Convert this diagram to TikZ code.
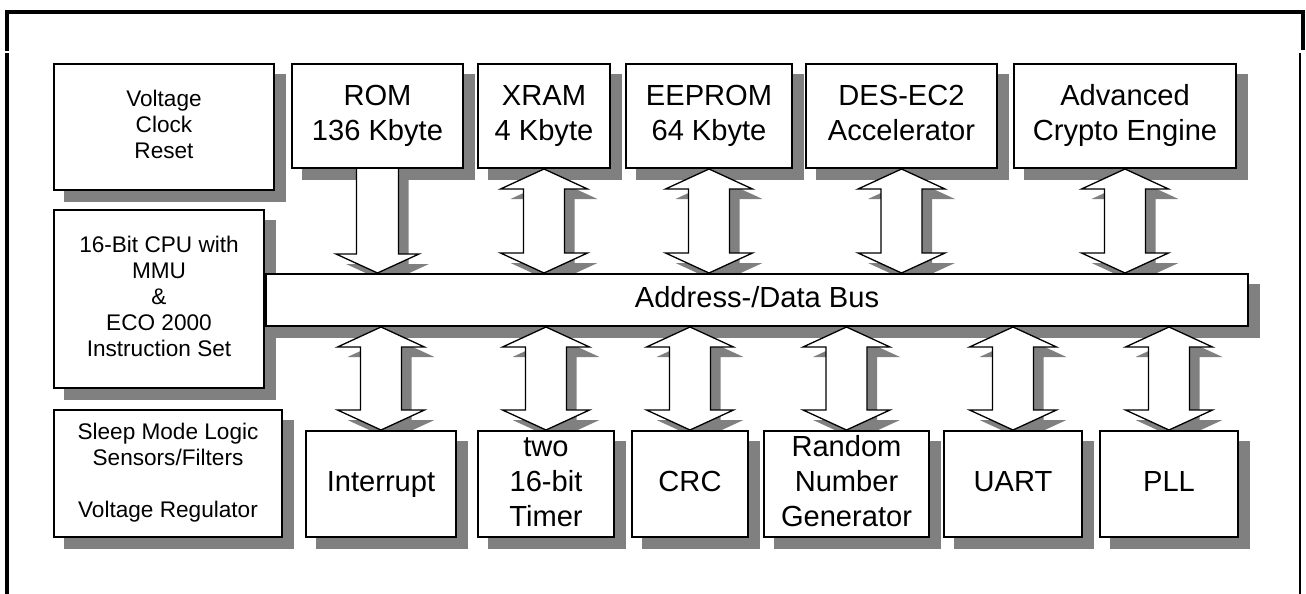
\documentclass[tikz,border=0pt]{standalone}
\usepackage{fontspec}
\setmainfont{Liberation Sans}
\usetikzlibrary{calc}
\definecolor{shade}{HTML}{808080}
\pgfdeclarelayer{bg}
\pgfsetlayers{bg,main}
\tikzset{
  box/.style={draw, line width=1pt, fill=white, inner sep=0pt, align=center},
  big/.style={font=\fontsize{14.55}{17.5}\selectfont},
  small/.style={font=\fontsize{11.3}{13}\selectfont},
  topbox/.style={box, big, minimum height=52pt},
  botbox/.style={box, big, minimum height=53pt},
  frameline/.style={line width=1.6pt},
  arrfill/.style={fill=white},
  arrline/.style={draw, line width=0.65pt, line join=miter},
  bshadow/.style={fill=shade, transform canvas={shift={(5.5pt,-5.5pt)}}},
  ashadow/.style={fill=shade, transform canvas={shift={(5pt,-5pt)}}},
}
\newcommand{\s}{\strut}
% double arrow between two named points (top tip, bottom tip)
\newcommand{\darrpath}[2]{(#1) -- ($(#1)+(43.5,20)$) -- ($(#1)+(20.5,20)$) -- ($(#2)+(20.5,-20)$) -- ($(#2)+(43.5,-20)$) -- (#2) -- ($(#2)+(-43.5,-20)$) -- ($(#2)+(-20.5,-20)$) -- ($(#1)+(-20.5,20)$) -- ($(#1)+(-43.5,20)$) -- cycle}
\newcommand{\darrow}[2]{%
  \begin{pgfonlayer}{bg}\fill[ashadow] \darrpath{#1}{#2};\end{pgfonlayer}
  \path[arrfill,arrline] \darrpath{#1}{#2};}
\begin{document}
\begin{tikzpicture}[x=0.5pt,y=-0.5pt]
\useasboundingbox (0,0) rectangle (1306,594);
% outer frame
\draw[frameline, line join=miter] (7,51) -- (7,12) -- (1303,12) -- (1303,50);
\draw[frameline] (7,53) -- (7,600);
\draw[line width=1.2pt] (1300,53) -- (1300,600);

% top row
\node[box, small, minimum width=110pt, minimum height=63pt] (vcr) at (164,127) {\s Voltage\\\s Clock\\\s Reset};
\node[topbox, minimum width=85.5pt] (rom) at (377.5,116) {\s ROM\\\s 136 Kbyte};
\node[topbox, minimum width=66pt] (xram) at (544,116) {\s XRAM\\\s 4 Kbyte};
\node[topbox, minimum width=83pt] (eeprom) at (709,116) {\s EEPROM\\\s 64 Kbyte};
\node[topbox, minimum width=95.5pt] (des) at (901.5,116) {\s DES-EC2\\\s Accelerator};
\node[topbox, minimum width=111pt] (ace) at (1125,116) {\s Advanced\\\s Crypto Engine};

% middle
\node[box, small, minimum width=105pt, minimum height=89pt] (cpu) at (159,299) {\s 16-Bit CPU with\\\s MMU\\\s \&\\\s ECO 2000\\\s Instruction Set};
\node[box, big, minimum width=491pt, minimum height=26pt] (bus) at (757,300) {\s Address-/Data Bus};

% bottom row
\node[box, small, minimum width=114pt, minimum height=63.5pt] (sleep) at (168,473.5) {\s Sleep Mode Logic\\\s Sensors/Filters\\[13pt]\s Voltage Regulator};
\node[botbox, minimum width=75pt] (intr) at (381,484) {\s Interrupt};
\node[botbox, minimum width=68pt] (timer) at (546,484) {\s two\\\s 16-bit\\\s Timer};
\node[botbox, minimum width=58pt] (crc) at (690,484) {\s CRC};
\node[botbox, minimum width=82.5pt] (rng) at (846.5,484) {\s Random\\\s Number\\\s Generator};
\node[botbox, minimum width=69pt] (uart) at (1013,484) {\s UART};
\node[botbox, minimum width=69pt] (pll) at (1169,484) {\s PLL};

% box shadows
\begin{pgfonlayer}{bg}
\foreach \n in {vcr,rom,xram,eeprom,des,ace,cpu,bus,sleep,intr,timer,crc,rng,uart,pll}
  \fill[bshadow] (\n.north west) rectangle (\n.south east);
\end{pgfonlayer}

% ROM single arrow (to bus)
\coordinate (r1) at (rom.south);
\coordinate (r2) at (rom.south |- bus.north);
\begin{pgfonlayer}{bg}
\fill[ashadow] ($(r1)+(-21,0)$) -- ($(r1)+(21,0)$) -- ($(r2)+(21,-19)$) -- ($(r2)+(41.5,-19)$) -- (r2) -- ($(r2)+(-41.5,-19)$) -- ($(r2)+(-21,-19)$) -- cycle;
\end{pgfonlayer}
\fill[arrfill] ($(r1)+(-21,0)$) -- ($(r1)+(21,0)$) -- ($(r2)+(21,-19)$) -- ($(r2)+(41.5,-19)$) -- (r2) -- ($(r2)+(-41.5,-19)$) -- ($(r2)+(-21,-19)$) -- cycle;
\draw[arrline] ($(r1)+(21,0)$) -- ($(r2)+(21,-19)$) -- ($(r2)+(41.5,-19)$) -- (r2) -- ($(r2)+(-41.5,-19)$) -- ($(r2)+(-21,-19)$) -- ($(r1)+(-21,0)$);

% top double arrows
\foreach \n in {xram,eeprom,des,ace} {
  \coordinate (\n-a) at (\n.south);
  \coordinate (\n-b) at (\n.south |- bus.north);
  \darrow{\n-a}{\n-b}
}
% bottom double arrows
\foreach \n in {intr,timer,crc,rng,uart,pll} {
  \coordinate (\n-a) at (\n.north |- bus.south);
  \coordinate (\n-b) at (\n.north);
  \darrow{\n-a}{\n-b}
}
\end{tikzpicture}
\end{document}
